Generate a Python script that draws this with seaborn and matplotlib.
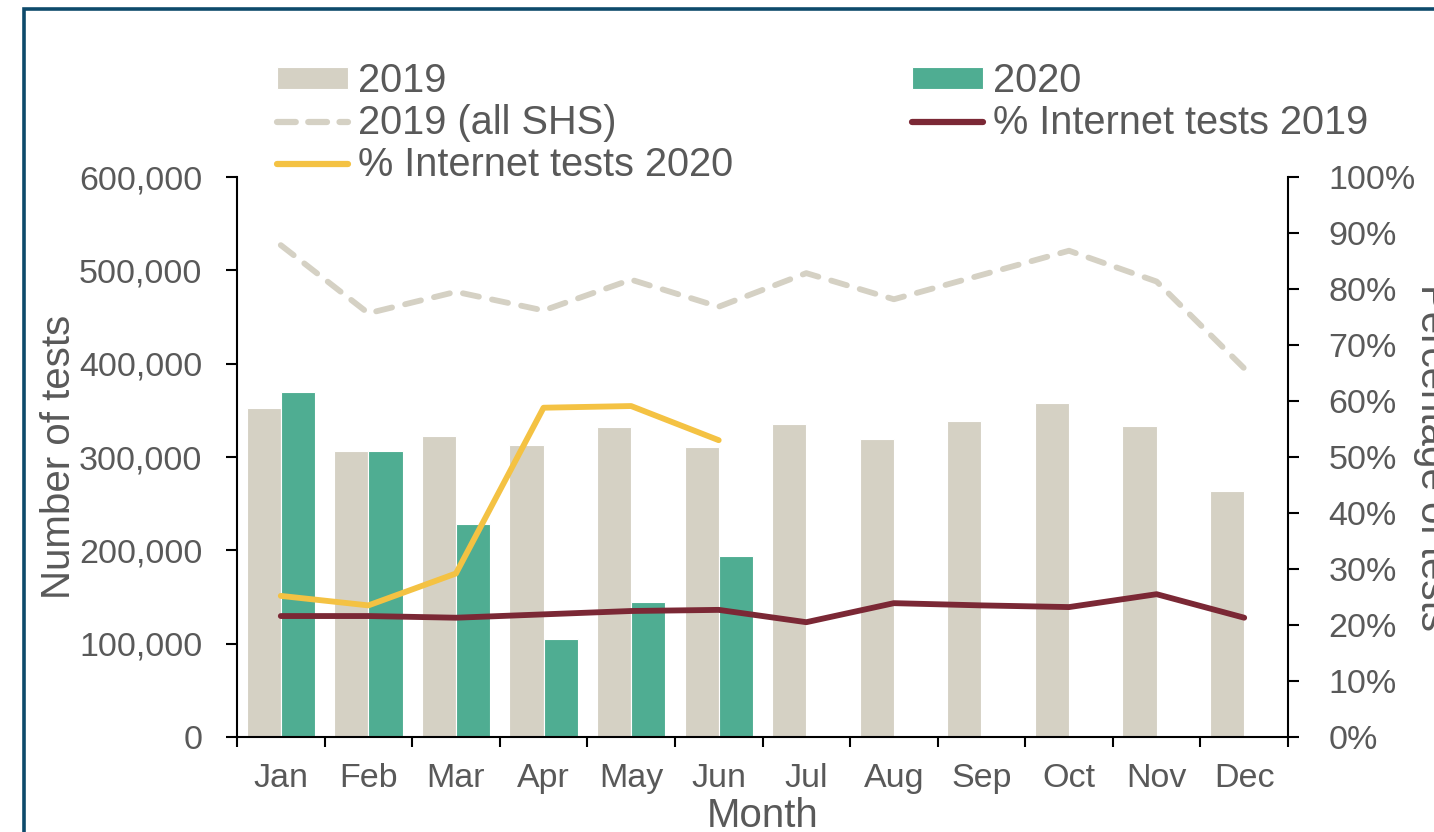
import numpy as np
import pandas as pd
import matplotlib
matplotlib.use("Agg")
import matplotlib.pyplot as plt
import seaborn as sns
from matplotlib.patches import Patch, Rectangle
from matplotlib.lines import Line2D
from matplotlib.ticker import FuncFormatter, MultipleLocator

# =====================================================
# Data
# =====================================================
months = ["Jan", "Feb", "Mar", "Apr", "May", "Jun",
          "Jul", "Aug", "Sep", "Oct", "Nov", "Dec"]
tests_2019 = [353000, 306000, 322000, 313000, 332000, 311000,
              335000, 319000, 339000, 358000, 333000, 264000]
tests_2020 = [370000, 306000, 228000, 105000, 145000, 194000]
tests_2019_all_shs = [527000, 454000, 477000, 457000, 490000, 461000,
                      497000, 469000, 495000, 521000, 488000, 395000]
pct_internet_2019 = [21.6, 21.6, 21.3, 21.9, 22.5, 22.7,
                     20.5, 23.9, 23.5, 23.2, 25.5, 21.3]
pct_internet_2020 = [25.2, 23.5, 29.2, 58.8, 59.1, 53.0]

# =====================================================
# Style
# =====================================================
BEIGE = "#D5D1C4"
TEAL = "#4FAD92"
MAROON = "#7B2835"
YELLOW = "#F4C243"
TXT = "#595959"
BORDER = "#0E4A6B"

W, H = 1434, 832
sns.set_style("white")
plt.rcParams["font.family"] = ["Liberation Sans", "DejaVu Sans"]

bars = pd.concat([
    pd.DataFrame({"month": months, "year": "2019", "tests": tests_2019}),
    pd.DataFrame({"month": months[:len(tests_2020)], "year": "2020", "tests": tests_2020}),
], ignore_index=True)

fig = plt.figure(figsize=(W / 100, H / 100), dpi=100)
ax = fig.add_axes([237 / W, 1 - 737 / H, (1288 - 237) / W, (737 - 177) / H])

# bars
sns.barplot(data=bars, x="month", y="tests", hue="year", order=months,
            hue_order=["2019", "2020"], palette={"2019": BEIGE, "2020": TEAL},
            width=0.78, saturation=1, edgecolor="white", linewidth=0.8,
            errorbar=None, legend=False, ax=ax)

xpos = np.arange(len(months))

# 2019 (all SHS) dashed on count axis
sns.lineplot(x=xpos, y=tests_2019_all_shs, ax=ax, color=BEIGE, lw=4.2,
             linestyle=(0, (2.8, 2.3)), dash_capstyle="round", legend=False)

# percentages on right axis
ax2 = ax.twinx()
sns.lineplot(x=xpos, y=pct_internet_2019, ax=ax2, color=MAROON, lw=4.2,
             solid_capstyle="round", legend=False)
sns.lineplot(x=xpos[:len(pct_internet_2020)], y=pct_internet_2020, ax=ax2,
             color=YELLOW, lw=4.2, solid_capstyle="round", legend=False)

# =====================================================
# Axes
# =====================================================
ax.set_xlim(-0.5, len(months) - 0.5)
ax.set_ylim(0, 600000)
ax2.set_ylim(0, 100)
ax.yaxis.set_major_locator(MultipleLocator(100000))
ax.yaxis.set_major_formatter(FuncFormatter(lambda v, p: f"{v:,.0f}"))
ax2.yaxis.set_major_locator(MultipleLocator(10))
ax2.yaxis.set_major_formatter(FuncFormatter(lambda v, p: f"{v:.0f}%"))

ax.set_xticks(xpos)
ax.set_xticklabels(months)
ax.set_xticks(np.arange(-0.5, len(months)), minor=True)

ax.tick_params(axis="x", which="major", bottom=True, length=0, pad=19,
               labelsize=24.5, labelcolor=TXT)
ax.tick_params(axis="x", which="minor", bottom=True, length=7.5, width=1.5,
               color="black", direction="out")
ax.tick_params(axis="y", left=True, length=8, width=1.5, pad=17,
               labelsize=24.5, labelcolor=TXT, direction="out", color="black")
ax2.tick_params(axis="y", right=True, length=8, width=1.5, pad=21,
                labelsize=24.5, labelcolor=TXT, direction="out", color="black")

for s in ["top", "right"]:
    ax.spines[s].set_visible(False)
for s in ["top", "left", "bottom"]:
    ax2.spines[s].set_visible(False)
for s in ["left", "bottom"]:
    ax.spines[s].set_linewidth(1.5)
    ax.spines[s].set_color("black")
ax2.spines["right"].set_linewidth(1.5)
ax2.spines["right"].set_color("black")

ax.set_xlabel("Month", fontsize=29, color=TXT, labelpad=2)
ax.set_ylabel("Number of tests", fontsize=29, color=TXT, labelpad=1)
ax2.set_ylabel("")
fig.text(1413 / W, 1 - 457 / H, "Percentage of tests", rotation=270,
         ha="left", va="center", fontsize=29, color=TXT)

# =====================================================
# Legend
# =====================================================
handles = [
    Patch(facecolor=BEIGE, edgecolor="white", linewidth=0.8),
    Line2D([0], [0], color=BEIGE, lw=4.5, linestyle=(0, (3, 2.0)), dash_capstyle="round"),
    Line2D([0], [0], color=YELLOW, lw=4.5, solid_capstyle="round"),
    Patch(facecolor=TEAL, edgecolor="white", linewidth=0.8),
    Line2D([0], [0], color=MAROON, lw=4.5, solid_capstyle="round"),
]
labels = ["2019", "2019 (all SHS)", "% Internet tests 2020", "2020", "% Internet tests 2019"]
leg = fig.legend(handles, labels, ncol=2, loc="upper left",
                 bbox_to_anchor=(277 / W, 1 - 62 / H), frameon=False,
                 fontsize=28.6, handlelength=1.79, handleheight=0.45,
                 handletextpad=0.25, columnspacing=4.5, labelspacing=0.1,
                 borderpad=0, borderaxespad=0)
for t in leg.get_texts():
    t.set_color(TXT)

# frame border
fig.patches.append(Rectangle((24 / W, -0.05), 1.1, 1 - 9 / H + 0.05,
                             transform=fig.transFigure, fill=False,
                             edgecolor=BORDER, linewidth=2.6, clip_on=False))

fig.savefig("out.png", dpi=100)
